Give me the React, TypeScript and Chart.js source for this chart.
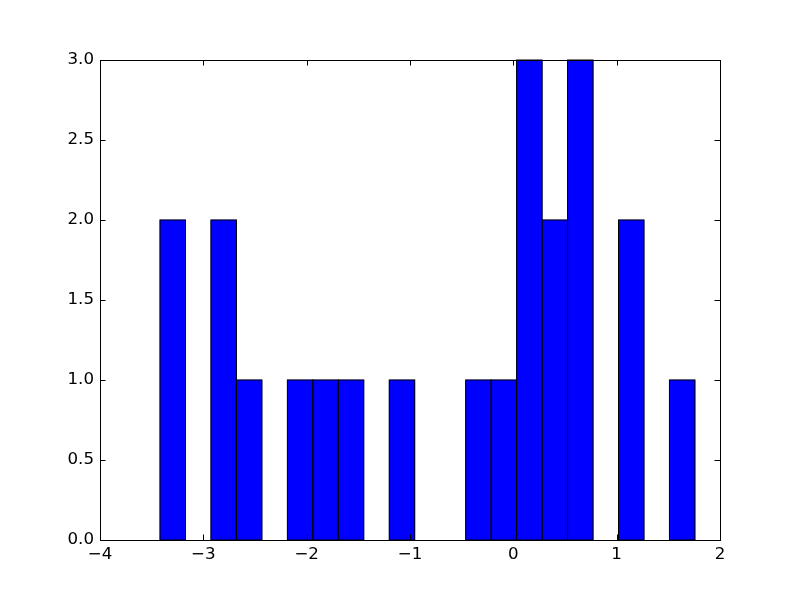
import React, { useEffect, useRef } from "react";
import { Chart, registerables } from "chart.js";

Chart.register(...registerables);

// Histogram bin edges and counts per bin
const binEdges = [
  -3.419, -3.173, -2.926, -2.68, -2.433, -2.187, -1.94, -1.694, -1.447, -1.201,
  -0.954, -0.708, -0.461, -0.215, 0.032, 0.278, 0.525, 0.771, 1.018, 1.264,
  1.511, 1.757,
];
const counts = [2, 0, 2, 1, 0, 1, 1, 1, 0, 1, 0, 0, 1, 1, 3, 2, 3, 0, 2, 0, 1];

const xTicks = [-4, -3, -2, -1, 0, 1, 2];
const yTicks = [0, 0.5, 1, 1.5, 2, 2.5, 3];

const FONT = "'DejaVu Sans', sans-serif";

// Bar outlines centred on the bar edges (as matplotlib draws them)
const outlinePlugin = {
  id: "barOutline",
  afterDatasetsDraw(chart: any) {
    const { ctx } = chart;
    const meta = chart.getDatasetMeta(0);
    ctx.save();
    ctx.strokeStyle = "#000";
    ctx.lineWidth = 1;
    meta.data.forEach((bar: any, i: number) => {
      if (!counts[i]) return;
      const p = bar.getProps(["x", "y", "base", "width"], true);
      const l = p.x - p.width / 2;
      ctx.strokeRect(l, p.y, p.width, p.base - p.y);
    });
    ctx.restore();
  },
};

const framePlugin = {
  id: "mplFrame",
  afterDatasetsDraw(chart: any) {
    const { ctx, chartArea: a, scales } = chart;
    const tl = 5.5;
    ctx.save();
    ctx.strokeStyle = "#000";
    ctx.lineWidth = 1;
    ctx.beginPath();
    for (const v of xTicks) {
      const px = Math.round(scales.x.getPixelForValue(v)) + 0.5;
      ctx.moveTo(px, a.bottom);
      ctx.lineTo(px, a.bottom - tl);
      ctx.moveTo(px, a.top);
      ctx.lineTo(px, a.top + tl);
    }
    for (const v of yTicks) {
      const py = Math.round(scales.y.getPixelForValue(v)) + 0.5;
      ctx.moveTo(a.left, py);
      ctx.lineTo(a.left + tl, py);
      ctx.moveTo(a.right, py);
      ctx.lineTo(a.right - tl, py);
    }
    ctx.stroke();
    ctx.strokeRect(
      Math.round(a.left) + 0.5,
      Math.round(a.top) + 0.5,
      Math.round(a.right - a.left),
      Math.round(a.bottom - a.top)
    );
    ctx.restore();
  },
};

export default function App() {
  const ref = useRef<HTMLCanvasElement | null>(null);

  useEffect(() => {
    document.body.style.margin = "0";
    const canvas = ref.current;
    if (!canvas) return;
    const data = counts.map((c, i) => ({
      x: (binEdges[i] + binEdges[i + 1]) / 2,
      y: c === 0 ? null : c,
    }));
    const chart = new Chart(canvas, {
      type: "bar",
      data: {
        datasets: [
          {
            data: data as any,
            backgroundColor: "#0000ff",
            borderWidth: 0,
            barPercentage: 1,
            categoryPercentage: 1,
          },
        ],
      },
      options: {
        animation: false,
        responsive: false,
        events: [],
        layout: { padding: { left: 0, right: 80, top: 60, bottom: 0 } },
        plugins: {
          legend: { display: false },
          tooltip: { enabled: false },
          title: { display: false },
        },
        scales: {
          x: {
            type: "linear",
            min: -4,
            max: 2,
            offset: false,
            grid: { display: false, drawTicks: false },
            border: { display: false },
            afterBuildTicks: (s: any) => {
              s.ticks = xTicks.map((v) => ({ value: v }));
            },
            afterFit: (s: any) => {
              s.height = 60;
            },
            ticks: {
              color: "#000",
              font: { family: FONT, size: 16.67 },
              padding: 5,
              maxRotation: 0,
              autoSkip: false,
              callback: (v: any) =>
                v < 0 ? "\u2212" + Math.abs(v) : String(v),
            },
          },
          y: {
            min: 0,
            max: 3,
            grid: { display: false, drawTicks: false },
            border: { display: false },
            afterBuildTicks: (s: any) => {
              s.ticks = yTicks.map((v) => ({ value: v }));
            },
            afterFit: (s: any) => {
              s.width = 100;
            },
            ticks: {
              color: "#000",
              font: { family: FONT, size: 16.67 },
              padding: 6,
              autoSkip: false,
              callback: (v: any) => Number(v).toFixed(1),
            },
          },
        },
      },
      plugins: [outlinePlugin, framePlugin],
    });
    return () => chart.destroy();
  }, []);

  return <canvas ref={ref} width={800} height={600} style={{ display: "block" }} />;
}
